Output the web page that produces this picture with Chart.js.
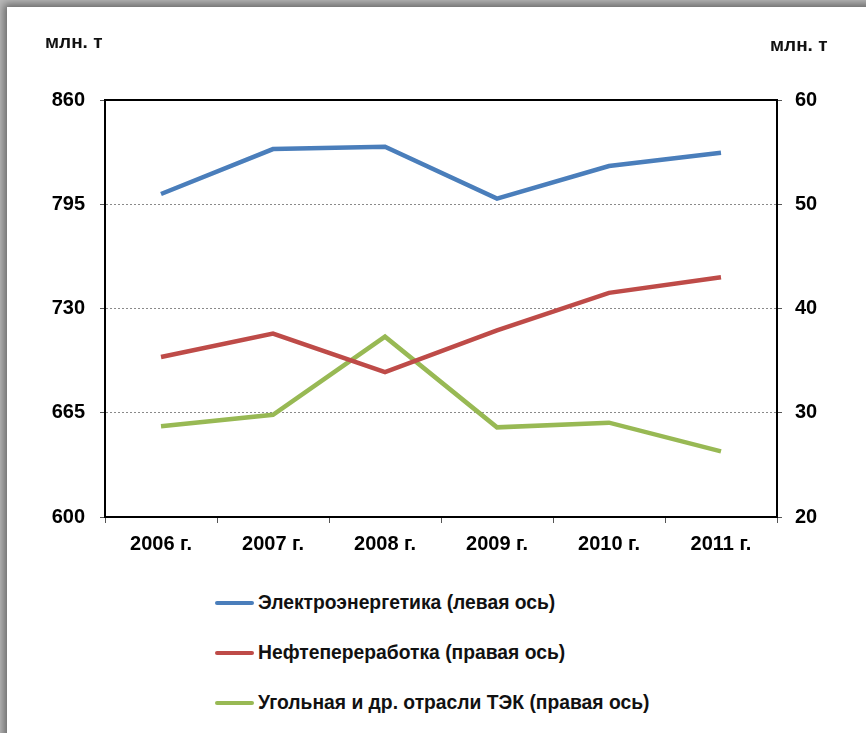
<!DOCTYPE html>
<html lang="ru">
<head>
<meta charset="utf-8">
<title>Потребление, млн. т</title>
<script src="https://cdn.jsdelivr.net/npm/chart.js"></script>
<style>
  html, body { margin: 0; padding: 0; }
  body {
    width: 866px; height: 733px; overflow: hidden; position: relative;
    background: #b9b9b9;
    font-family: "Liberation Sans", Arial, sans-serif;
  }
  .panel {
    position: absolute; left: 7px; top: 7px; width: 900px; height: 800px;
    background: #fff;
    box-shadow: 0 0 8px 3px rgba(0,0,0,0.45);
  }
  .wrap { position: absolute; left: 0; top: 0; width: 866px; height: 570px; }
  .unit {
    position: absolute; font-weight: bold; font-size: 19px; color: #111;
  }
  .legend {
    position: absolute; left: 215px; top: 592px;
    display: flex; flex-direction: column; gap: 28px;
  }
  .legend .item { display: flex; align-items: center; height: 22px; }
  .legend .swatch { width: 39px; height: 4px; margin-right: 4px; border-radius: 2px; }
  .legend .text { font-weight: bold; font-size: 19.3px; color: #111; white-space: nowrap; }
</style>
</head>
<body>
<div class="panel"></div>
<div class="wrap"><canvas id="chart" width="866" height="570"></canvas></div>
<div class="unit" style="left:45px; top:31px;">млн. т</div>
<div class="unit" style="left:770px; top:34px;">млн. т</div>
<div class="legend" id="legend"></div>

<script>
// years on the category axis
const years = ['2006 г.', '2007 г.', '2008 г.', '2009 г.', '2010 г.', '2011 г.'];

// left axis, млн. т
const power = [801.4, 829.4, 830.9, 798.5, 818.8, 827.1];
// right axis, млн. т
const refining = [35.35, 37.6, 33.9, 37.9, 41.5, 43.0];
const coal = [28.7, 29.8, 37.3, 28.6, 29.05, 26.3];

const seriesNames = [
    'Электроэнергетика (левая ось)',
    'Нефтепереработка (правая ось)',
    'Угольная и др. отрасли ТЭК (правая ось)'
];
const seriesColors = ['#4a7ebb', '#be4b48', '#98b954'];

const leftTicks = { min: 600, max: 860, step: 65 };
const rightTicks = { min: 20, max: 60, step: 10 };

const tickFont = { family: '"Liberation Sans", Arial, sans-serif', size: 20, weight: 'bold' };

// top edge of the plot box (the axes only give left, right and bottom)
const frameTop = {
    id: 'frameTop',
    afterDraw(chart) {
        const { ctx, chartArea } = chart;
        ctx.save();
        ctx.strokeStyle = '#000';
        ctx.lineWidth = 2;
        ctx.beginPath();
        ctx.moveTo(chartArea.left, chartArea.top);
        ctx.lineTo(chartArea.right, chartArea.top);
        ctx.stroke();
        ctx.restore();
    }
};

function lineSet(label, data, color, axis) {
    return {
        label,
        data,
        yAxisID: axis,
        borderColor: color,
        backgroundColor: color,
        borderWidth: 4.5,
        pointRadius: 0,
        pointHoverRadius: 0,
        tension: 0,
        fill: false
    };
}

const chart = new Chart(document.getElementById('chart').getContext('2d'), {
    type: 'line',
    data: {
        labels: years,
        datasets: [
            lineSet(seriesNames[0], power, seriesColors[0], 'y'),
            lineSet(seriesNames[1], refining, seriesColors[1], 'y1'),
            lineSet(seriesNames[2], coal, seriesColors[2], 'y1')
        ]
    },
    options: {
        responsive: false,
        animation: false,
        layout: { padding: { top: 100, left: 0, right: 0, bottom: 0 } },
        plugins: {
            legend: { display: false },
            tooltip: { enabled: false }
        },
        scales: {
            x: {
                offset: true,
                grid: {
                    offset: true,
                    drawOnChartArea: false,
                    drawTicks: true,
                    tickLength: 6,
                    tickColor: '#555',
                    tickWidth: 1
                },
                border: { color: '#000', width: 2 },
                ticks: { color: '#000', font: tickFont, padding: 9, maxRotation: 0 },
                afterFit(s) { s.height = 53; }
            },
            y: {
                position: 'left',
                min: leftTicks.min,
                max: leftTicks.max,
                ticks: { stepSize: leftTicks.step, color: '#000', font: tickFont, padding: 15 },
                grid: {
                    color: c => (c.tick && (c.tick.value === leftTicks.min || c.tick.value === leftTicks.max)) ? 'rgba(0,0,0,0)' : '#8a8a8a',
                    lineWidth: 1,
                    tickLength: 5,
                    tickColor: '#555',
                    tickWidth: 1
                },
                border: { color: '#000', width: 2, dash: [2, 2] },
                afterFit(s) { s.width = 105; }
            },
            y1: {
                position: 'right',
                min: rightTicks.min,
                max: rightTicks.max,
                ticks: { stepSize: rightTicks.step, color: '#000', font: tickFont, padding: 13 },
                grid: {
                    drawOnChartArea: false,
                    tickLength: 5,
                    tickColor: '#555',
                    tickWidth: 1
                },
                border: { color: '#000', width: 2 },
                afterFit(s) { s.width = 89; }
            }
        }
    },
    plugins: [frameTop]
});

// legend in a single column under the chart
const legendBox = document.getElementById('legend');
chart.data.datasets.forEach(ds => {
    const item = document.createElement('div');
    item.className = 'item';
    item.innerHTML = `<span class="swatch" style="background:${ds.borderColor}"></span><span class="text">${ds.label}</span>`;
    legendBox.appendChild(item);
});
</script>
</body>
</html>
